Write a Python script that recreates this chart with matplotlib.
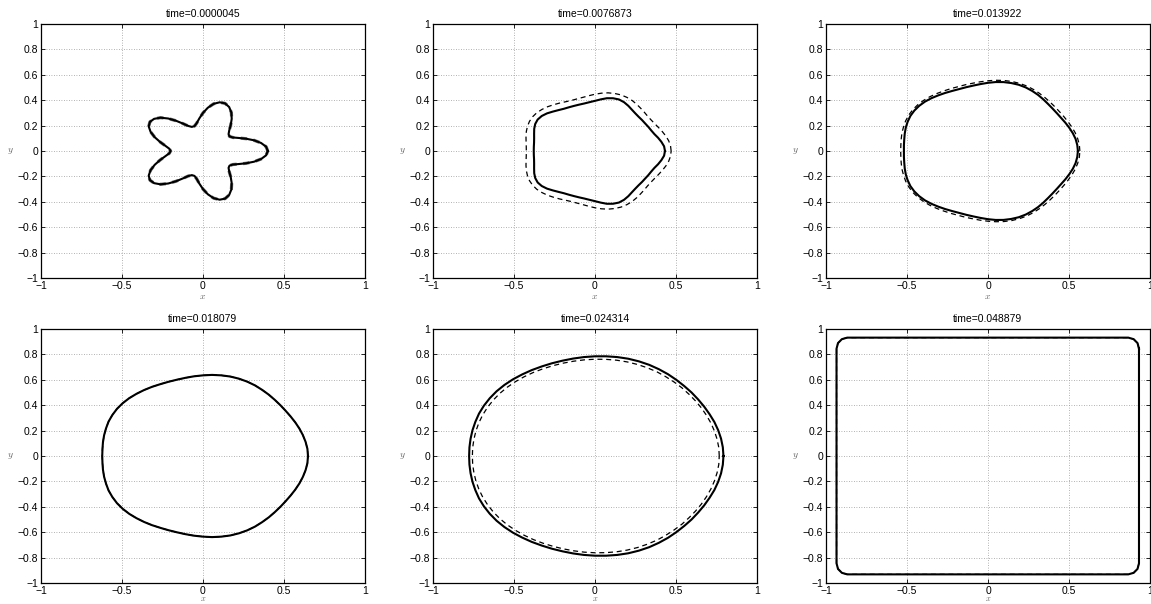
import numpy as np
import matplotlib.pyplot as plt

plt.rcParams['font.family'] = ['Liberation Sans', 'DejaVu Sans']
plt.rcParams['mathtext.fontset'] = 'cm'

# panel titles
titles = ['time=0.0000045', 'time=0.0076873', 'time=0.013922',
          'time=0.018079', 'time=0.024314', 'time=0.048879']

# tick values and labels
xticks = [-1, -0.5, 0, 0.5, 1]
xticklabels = ['\u22121', '\u22120.5', '0', '0.5', '1']
yticks = [-1, -0.8, -0.6, -0.4, -0.2, 0, 0.2, 0.4, 0.6, 0.8, 1]
yticklabels = ['\u22121', '\u22120.8', '\u22120.6', '\u22120.4', '\u22120.2', '0',
               '0.2', '0.4', '0.6', '0.8', '1']

ang = np.arange(0, 360, 5)

# panel 1 : star (solid and dashed coincide)
r1 = [0.400, 0.391, 0.364, 0.326, 0.283, 0.243, 0.213, 0.200, 0.206, 0.229,
      0.266, 0.309, 0.350, 0.382, 0.399, 0.397, 0.377, 0.342, 0.300, 0.258,
      0.223, 0.203, 0.202, 0.218, 0.250, 0.291, 0.334, 0.371, 0.394, 0.400,
      0.387, 0.357, 0.317, 0.274, 0.236, 0.209, 0.200, 0.209, 0.236, 0.274,
      0.317, 0.357, 0.387, 0.400, 0.394, 0.371, 0.334, 0.291, 0.250, 0.218,
      0.202, 0.203, 0.223, 0.258, 0.300, 0.342, 0.377, 0.397, 0.399, 0.382,
      0.350, 0.309, 0.266, 0.229, 0.206, 0.200, 0.213, 0.243, 0.283, 0.326,
      0.364, 0.391]

# panel 2
r2 = [0.432, 0.428, 0.416, 0.403, 0.390, 0.383, 0.380, 0.378, 0.379, 0.381,
      0.387, 0.397, 0.411, 0.424, 0.432, 0.430, 0.422, 0.408, 0.395, 0.386,
      0.380, 0.378, 0.378, 0.380, 0.384, 0.393, 0.405, 0.419, 0.429, 0.432,
      0.426, 0.414, 0.400, 0.389, 0.382, 0.379, 0.378, 0.379, 0.382, 0.389,
      0.400, 0.414, 0.426, 0.432, 0.429, 0.419, 0.405, 0.393, 0.384, 0.380,
      0.378, 0.378, 0.380, 0.386, 0.395, 0.408, 0.422, 0.430, 0.432, 0.424,
      0.411, 0.397, 0.387, 0.381, 0.379, 0.378, 0.380, 0.383, 0.390, 0.403,
      0.416, 0.428]
r2_dash = [0.470, 0.468, 0.462, 0.453, 0.443, 0.434, 0.427, 0.424, 0.425, 0.431,
           0.439, 0.449, 0.459, 0.466, 0.470, 0.469, 0.465, 0.457, 0.447, 0.437,
           0.429, 0.425, 0.424, 0.428, 0.436, 0.445, 0.455, 0.463, 0.469, 0.470,
           0.467, 0.460, 0.451, 0.441, 0.432, 0.426, 0.424, 0.426, 0.432, 0.441,
           0.451, 0.460, 0.467, 0.470, 0.469, 0.463, 0.455, 0.445, 0.436, 0.428,
           0.424, 0.425, 0.429, 0.437, 0.447, 0.457, 0.465, 0.469, 0.470, 0.466,
           0.459, 0.449, 0.439, 0.431, 0.425, 0.424, 0.427, 0.434, 0.443, 0.453,
           0.462, 0.468]

# panel 3
r3 = [0.555, 0.553, 0.549, 0.542, 0.534, 0.527, 0.521, 0.519, 0.520, 0.524,
      0.531, 0.539, 0.546, 0.552, 0.555, 0.554, 0.551, 0.545, 0.537, 0.529,
      0.523, 0.520, 0.519, 0.522, 0.528, 0.535, 0.543, 0.550, 0.554, 0.555,
      0.553, 0.547, 0.540, 0.532, 0.525, 0.521, 0.519, 0.521, 0.525, 0.532,
      0.540, 0.547, 0.553, 0.555, 0.554, 0.550, 0.543, 0.535, 0.528, 0.522,
      0.519, 0.520, 0.523, 0.529, 0.537, 0.545, 0.551, 0.554, 0.555, 0.552,
      0.546, 0.539, 0.531, 0.524, 0.520, 0.519, 0.521, 0.527, 0.534, 0.542,
      0.549, 0.553]
r3_dash = [0.567, 0.566, 0.562, 0.557, 0.551, 0.545, 0.541, 0.539, 0.540, 0.543,
           0.548, 0.554, 0.560, 0.565, 0.567, 0.567, 0.564, 0.559, 0.553, 0.547,
           0.542, 0.540, 0.539, 0.542, 0.546, 0.552, 0.558, 0.563, 0.566, 0.567,
           0.565, 0.561, 0.555, 0.550, 0.544, 0.540, 0.539, 0.540, 0.544, 0.550,
           0.555, 0.561, 0.565, 0.567, 0.566, 0.563, 0.558, 0.552, 0.546, 0.542,
           0.539, 0.540, 0.542, 0.547, 0.553, 0.559, 0.564, 0.567, 0.567, 0.565,
           0.560, 0.554, 0.548, 0.543, 0.540, 0.539, 0.541, 0.545, 0.551, 0.557,
           0.562, 0.566]

# panel 4 (solid and dashed coincide)
r4 = [0.648, 0.647, 0.643, 0.638, 0.633, 0.628, 0.624, 0.622, 0.623, 0.626,
      0.631, 0.636, 0.642, 0.646, 0.648, 0.648, 0.645, 0.641, 0.635, 0.630,
      0.625, 0.622, 0.622, 0.624, 0.629, 0.634, 0.639, 0.644, 0.647, 0.648,
      0.646, 0.643, 0.637, 0.632, 0.627, 0.623, 0.622, 0.623, 0.627, 0.632,
      0.637, 0.643, 0.646, 0.648, 0.647, 0.644, 0.639, 0.634, 0.629, 0.624,
      0.622, 0.622, 0.625, 0.630, 0.635, 0.641, 0.645, 0.648, 0.648, 0.646,
      0.642, 0.636, 0.631, 0.626, 0.623, 0.622, 0.624, 0.628, 0.633, 0.638,
      0.643, 0.647]

# panel 5
r5 = [0.793, 0.792, 0.790, 0.787, 0.784, 0.780, 0.778, 0.777, 0.778, 0.779,
      0.782, 0.786, 0.789, 0.792, 0.793, 0.793, 0.791, 0.788, 0.785, 0.782,
      0.779, 0.777, 0.777, 0.778, 0.781, 0.784, 0.788, 0.791, 0.793, 0.793,
      0.792, 0.790, 0.786, 0.783, 0.780, 0.778, 0.777, 0.778, 0.780, 0.783,
      0.786, 0.790, 0.792, 0.793, 0.793, 0.791, 0.788, 0.784, 0.781, 0.778,
      0.777, 0.777, 0.779, 0.782, 0.785, 0.788, 0.791, 0.793, 0.793, 0.792,
      0.789, 0.786, 0.782, 0.779, 0.778, 0.777, 0.778, 0.780, 0.784, 0.787,
      0.790, 0.792]
r5_dash = [0.767, 0.767, 0.765, 0.763, 0.761, 0.759, 0.758, 0.757, 0.757, 0.759,
           0.760, 0.762, 0.765, 0.766, 0.767, 0.767, 0.766, 0.764, 0.762, 0.760,
           0.758, 0.757, 0.757, 0.758, 0.760, 0.762, 0.764, 0.766, 0.767, 0.767,
           0.766, 0.765, 0.763, 0.761, 0.759, 0.758, 0.757, 0.758, 0.759, 0.761,
           0.763, 0.765, 0.766, 0.767, 0.767, 0.766, 0.764, 0.762, 0.760, 0.758,
           0.757, 0.757, 0.758, 0.760, 0.762, 0.764, 0.766, 0.767, 0.767, 0.766,
           0.765, 0.762, 0.760, 0.759, 0.757, 0.757, 0.758, 0.759, 0.761, 0.763,
           0.765, 0.767]

# panel 6 : rounded square, outline points (solid and dashed coincide)
sq_x = [0.932, 0.923, 0.899, 0.866, -0.869, -0.902, -0.926, -0.935,
        -0.935, -0.926, -0.902, -0.869, 0.866, 0.899, 0.923, 0.932, 0.932]
sq_y = [0.845, 0.889, 0.920, 0.932, 0.932, 0.920, 0.889, 0.845,
        -0.845, -0.889, -0.920, -0.932, -0.932, -0.920, -0.889, -0.845, 0.845]


def to_xy(r):
    a = np.deg2rad(np.append(ang, ang[0]))
    r = np.append(r, r[0])
    return r * np.cos(a), r * np.sin(a)


curves = [
    (to_xy(r1), to_xy(r1)),
    (to_xy(r2), to_xy(r2_dash)),
    (to_xy(r3), to_xy(r3_dash)),
    (to_xy(r4), to_xy(r4)),
    (to_xy(r5), to_xy(r5_dash)),
    ((sq_x, sq_y), (sq_x, sq_y)),
]

W, H = 1151, 604
fig = plt.figure(figsize=(W / 100, H / 100), dpi=100)

lefts = [41, 433, 826]
tops = [24, 329]
aw, ah = 324, 254

for i in range(6):
    row, col = divmod(i, 3)
    ax = fig.add_axes([lefts[col] / W, 1 - (tops[row] + ah) / H, aw / W, ah / H])
    (xs, ys), (xd, yd) = curves[i]
    if i == 0:
        # dashed front peeks out grey around the solid one
        ax.plot(xd, yd, color='0.45', lw=2.3, dashes=(2, 2))
    else:
        ax.plot(xd, yd, color='black', lw=0.9, dashes=(4, 3))
    ax.plot(xs, ys, color='black', lw=1.5)

    ax.set_xlim(-1, 1)
    ax.set_ylim(-1, 1)
    ax.set_xticks(xticks)
    ax.set_xticklabels(xticklabels)
    ax.set_yticks(yticks)
    ax.set_yticklabels(yticklabels)
    ax.tick_params(direction='in', top=True, right=True, length=3, width=0.6,
                   labelsize=7.5, pad=2)
    ax.grid(True, color='0.6', linestyle=(0, (1, 2)), lw=0.6)
    for s in ax.spines.values():
        s.set_linewidth(0.9)
    ax.set_title(titles[i], fontsize=7.5, pad=5)
    if row == 0:
        ax.set_xlabel('$x$', fontsize=7, color='0.4', va='center')
        ax.xaxis.set_label_coords(0.5, -0.07)
    else:
        ax.set_xlabel('$x$', fontsize=6, color='0.4', va='bottom')
        ax.xaxis.set_label_coords(0.5, -0.077)
    ax.set_ylabel('$y$', fontsize=7, color='0.4', rotation=0, va='center')
    ax.yaxis.set_label_coords(-0.095, 0.5)

fig.savefig('out.png', dpi=100)
